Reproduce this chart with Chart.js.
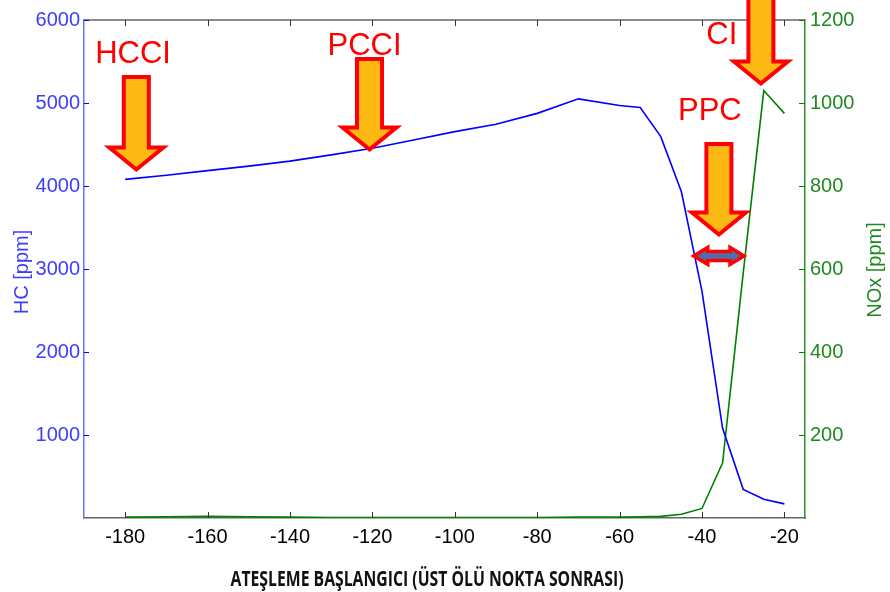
<!DOCTYPE html>
<html>
<head>
<meta charset="utf-8">
<title>HC / NOx</title>
<script src="https://cdn.jsdelivr.net/npm/chart.js@4"></script>
<style>
  body { margin: 0; background: #fff; }
  #wrap { width: 890px; height: 592px; }
</style>
</head>
<body>
<div id="wrap"><canvas id="hc-chart" width="890" height="592"></canvas></div>
<script>
'use strict';

// ********** DATA **********

let crankAngle = [-180, -170, -160, -150, -140, -130, -120, -110, -100, -90, -80, -70, -60, -55, -50, -45, -40, -35, -30, -25, -20];
let hcPpm = [4080, 4130, 4185, 4240, 4300, 4375, 4455, 4555, 4655, 4745, 4875, 5050, 4970, 4945, 4595, 3930, 2730, 1080, 345, 225, 170];
let noxPpm = [2, 3, 4, 3, 2, 1, 1, 1, 1, 1, 1, 2, 2, 3, 4, 9, 23, 133, 590, 1030, 975];

let xTicks = [-180, -160, -140, -120, -100, -80, -60, -40, -20];
let hcTicks = [1000, 2000, 3000, 4000, 5000, 6000];
let noxTicks = [200, 400, 600, 800, 1000, 1200];

let xTitle = 'ATEŞLEME BAŞLANGICI (ÜST ÖLÜ NOKTA SONRASI)';
let hcTitle = 'HC [ppm]';
let noxTitle = 'NOx [ppm]';

// combustion mode callouts: arrow x, arrow tip / top (HC units), label spot
let modeArrows = [
  { label: 'HCCI', x: -177.3, tip: 4199, top: 5313, labelX: -178.1, labelY: 5482 },
  { label: 'PCCI', x: -120.7, tip: 4440, top: 5530, labelX: -121.9, labelY: 5578 },
  { label: 'PPC', x: -35.9, tip: 3416, top: 4506, labelX: -38.1, labelY: 4795 },
  { label: 'CI', x: -25.7, tip: 5235, top: 6361, labelX: -35.2, labelY: 5711 }
];
// PPC window (double arrow)
let ppcRange = { from: -42.0, to: -29.8, level: 3157 };

// ********** COLORS / FONTS **********

const HC_BLUE = '#0000ff';
const HC_TEXT = '#3c3cff';
const NOX_GREEN = '#008000';
const NOX_TEXT = '#1f8a1f';
const ARROW_FILL = '#fdb913';
const ARROW_EDGE = '#ff0000';
const FONT = '"Liberation Sans", Arial, sans-serif';

let ctx = document.getElementById('hc-chart');

function toPoints(values) {
  let pts = [];
  for (let i = 0; i < crankAngle.length; i++) {
    pts.push({ x: crankAngle[i], y: values[i] });
  }
  return pts;
}

function fixedTicks(list) {
  return function (scale) {
    scale.ticks = list.map(v => ({ value: v }));
  };
}

// plain numbers, no thousands separator
function plainLabel(value) {
  return String(value);
}

// ********** DRAWING HELPERS **********

function downArrow(g, cx, tip, top) {
  let sw = 12.5, hw = 27, hl = 22;
  g.beginPath();
  g.moveTo(cx - sw, top);
  g.lineTo(cx + sw, top);
  g.lineTo(cx + sw, tip - hl);
  g.lineTo(cx + hw, tip - hl);
  g.lineTo(cx, tip);
  g.lineTo(cx - hw, tip - hl);
  g.lineTo(cx - sw, tip - hl);
  g.closePath();
  g.fillStyle = ARROW_FILL;
  g.fill();
  g.lineWidth = 4;
  g.lineJoin = 'miter';
  g.strokeStyle = ARROW_EDGE;
  g.stroke();
}

function doubleArrow(g, x1, x2, y) {
  let bh = 4.5, hh = 8.5, hl = 14;
  g.beginPath();
  g.moveTo(x1, y);
  g.lineTo(x1 + hl, y - hh);
  g.lineTo(x1 + hl, y - bh);
  g.lineTo(x2 - hl, y - bh);
  g.lineTo(x2 - hl, y - hh);
  g.lineTo(x2, y);
  g.lineTo(x2 - hl, y + hh);
  g.lineTo(x2 - hl, y + bh);
  g.lineTo(x1 + hl, y + bh);
  g.lineTo(x1 + hl, y + hh);
  g.closePath();
  g.fillStyle = '#4e6fab';
  g.fill();
  g.lineWidth = 3.5;
  g.lineJoin = 'miter';
  g.strokeStyle = ARROW_EDGE;
  g.stroke();
}

// frame, inward ticks, axis titles and the mode callouts
let decorations = {
  id: 'decorations',
  afterDraw(chart) {
    let g = chart.ctx;
    let area = chart.chartArea;
    let xs = chart.scales.x;
    let ys = chart.scales.y;
    let ys1 = chart.scales.y1;

    g.save();
    // top edge of the box
    g.strokeStyle = '#666';
    g.lineWidth = 1.5;
    g.beginPath();
    g.moveTo(area.left, area.top);
    g.lineTo(area.right, area.top);
    g.stroke();

    // x ticks, bottom and top, pointing inward
    g.strokeStyle = '#333';
    g.lineWidth = 1;
    g.beginPath();
    for (let v of xTicks) {
      let px = Math.round(xs.getPixelForValue(v)) + 0.5;
      g.moveTo(px, area.bottom);
      g.lineTo(px, area.bottom - 6);
      g.moveTo(px, area.top);
      g.lineTo(px, area.top + 6);
    }
    g.stroke();

    g.strokeStyle = HC_BLUE;
    g.beginPath();
    for (let v of hcTicks) {
      let py = Math.round(ys.getPixelForValue(v)) + 0.5;
      g.moveTo(area.left, py);
      g.lineTo(area.left + 5, py);
    }
    g.stroke();

    g.strokeStyle = NOX_GREEN;
    g.beginPath();
    for (let v of noxTicks) {
      let py = Math.round(ys1.getPixelForValue(v)) + 0.5;
      g.moveTo(area.right, py);
      g.lineTo(area.right - 6, py);
    }
    g.stroke();

    // axis titles, both read bottom to top
    g.font = '20px ' + FONT;
    g.textAlign = 'center';
    g.textBaseline = 'alphabetic';
    g.fillStyle = HC_TEXT;
    g.save();
    g.translate(28, 272);
    g.rotate(-Math.PI / 2);
    g.fillText(hcTitle, 0, 0);
    g.restore();

    g.fillStyle = NOX_TEXT;
    g.save();
    g.translate(881, 270);
    g.rotate(-Math.PI / 2);
    g.fillText(noxTitle, 0, 0);
    g.restore();

    // x title, condensed bold
    g.font = 'bold 21px "Liberation Sans Narrow", "Open Sans", sans-serif';
    g.fillStyle = '#111';
    let w = g.measureText(xTitle).width;
    g.save();
    g.translate(427, 586);
    g.scale(393 / w, 1);
    g.fillText(xTitle, 0, 0);
    g.restore();

    // callouts
    for (let a of modeArrows) {
      downArrow(g, xs.getPixelForValue(a.x), ys.getPixelForValue(a.tip), ys.getPixelForValue(a.top));
    }
    doubleArrow(g, xs.getPixelForValue(ppcRange.from), xs.getPixelForValue(ppcRange.to), ys.getPixelForValue(ppcRange.level));

    g.font = '31px ' + FONT;
    g.fillStyle = '#ff0000';
    g.textAlign = 'center';
    for (let a of modeArrows) {
      g.fillText(a.label, xs.getPixelForValue(a.labelX), ys.getPixelForValue(a.labelY));
    }
    g.restore();
  }
};

// ********** CHART **********

let chartObj = {
  type: 'line',
  data: {
    datasets: [{
      label: 'HC',
      data: toPoints(hcPpm),
      yAxisID: 'y',
      borderColor: HC_BLUE,
      borderWidth: 1.6,
      pointRadius: 0,
      tension: 0
    },
    {
      label: 'NOx',
      data: toPoints(noxPpm),
      yAxisID: 'y1',
      borderColor: NOX_GREEN,
      borderWidth: 1.6,
      pointRadius: 0,
      tension: 0
    }]
  },
  options: {
    responsive: false,
    animation: false,
    layout: { padding: { top: 20, left: 0, right: 0, bottom: 0 } },
    plugins: {
      legend: { display: false },
      tooltip: { enabled: false }
    },
    scales: {
      x: {
        type: 'linear',
        min: -190,
        max: -15,
        afterBuildTicks: fixedTicks(xTicks),
        afterFit(scale) { scale.height = 74; },
        grid: { display: false, drawTicks: false },
        border: { display: true, color: '#666', width: 1.5 },
        ticks: { color: '#000', padding: 7, callback: plainLabel, font: { family: FONT, size: 20 } }
      },
      y: {
        position: 'left',
        min: 0,
        max: 6000,
        afterBuildTicks: fixedTicks(hcTicks),
        afterFit(scale) { scale.width = 84; },
        grid: { display: false, drawTicks: false },
        border: { display: true, color: '#7070ff', width: 1.5 },
        ticks: { color: HC_TEXT, padding: 4, callback: plainLabel, font: { family: FONT, size: 20 } }
      },
      y1: {
        position: 'right',
        min: 0,
        max: 1200,
        afterBuildTicks: fixedTicks(noxTicks),
        afterFit(scale) { scale.width = 85; },
        grid: { display: false, drawTicks: false },
        border: { display: true, color: '#2e8b2e', width: 1.5 },
        ticks: { color: NOX_TEXT, padding: 5, callback: plainLabel, font: { family: FONT, size: 20 } }
      }
    }
  },
  plugins: [decorations]
};

new Chart(ctx, chartObj); //eslint-disable-line
</script>
</body>
</html>
